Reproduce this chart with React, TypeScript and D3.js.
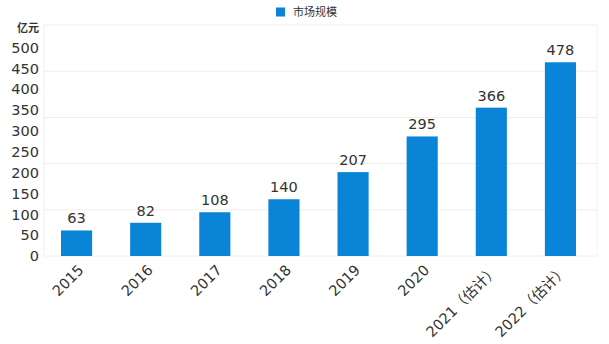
import React from "react";
import * as d3 from "d3";

const categories = ["2015", "2016", "2017", "2018", "2019", "2020", "2021（估计）", "2022（估计）"];
const values = [63, 82, 108, 140, 207, 295, 366, 478];
const yTickLabels = [0, 50, 100, 150, 200, 250, 300, 350, 400, 450, 500];
const seriesName = "市场规模";
const unitLabel = "亿元";

const W = 609;
const H = 344;
const FONT = "'DejaVu Sans', 'Noto Sans CJK SC', sans-serif";
const BAR = "#0a84d7";
const TEXT = "#333";

export default function App() {
  const left = 44, right = 597, top = 25, bottom = 256;
  const x = d3.scaleBand<string>().domain(categories).range([42, 595]).paddingInner(0.55).paddingOuter(0.275);
  const y = d3.scaleLinear().domain([0, 570]).range([bottom, top]);
  const gridTicks = d3.range(0, 6).map((i) => (570 / 5) * i);
  const yLab = d3.scaleLinear().domain([0, 500]).range([256, 47.5]);

  return (
    <svg width={W} height={H} style={{ position: "absolute", left: 0, top: 0, background: "#fff" }} fontFamily={FONT}>
      {/* legend */}
      <rect x={276} y={7.5} width={9} height={9} fill={BAR} />
      <text x={293} y={16} fontSize={11} fill={TEXT}>{seriesName}</text>
      {/* grid */}
      {gridTicks.map((t, i) => (
        <line key={i} x1={left} x2={right} y1={y(t)} y2={y(t)} stroke="#eeeeee" strokeWidth={1} />
      ))}
      <line x1={left} x2={left} y1={top} y2={bottom} stroke="#eeeeee" />
      <line x1={right} x2={right} y1={top} y2={bottom} stroke="#f2f2f2" />
      {/* unit */}
      <text x={39} y={32} fontSize={11} fontWeight="bold" fill={TEXT} textAnchor="end">{unitLabel}</text>
      {/* y labels */}
      {yTickLabels.map((t) => (
        <text key={t} x={39} y={yLab(t)} dy="0.36em" fontSize={14.5} fill={TEXT} textAnchor="end">{t}</text>
      ))}
      {/* bars */}
      {values.map((v, i) => {
        const bx = x(categories[i])!;
        return (
          <g key={i}>
            <rect x={bx} y={y(v)} width={x.bandwidth()} height={bottom - y(v)} fill={BAR} />
            <text x={bx + x.bandwidth() / 2} y={y(v) - 7} fontSize={14.5} fill={TEXT} textAnchor="middle">{v}</text>
          </g>
        );
      })}
      {/* x labels */}
      {categories.map((c) => {
        const cx = x(c)! + x.bandwidth() / 2;
        return (
          <text key={c} transform={`translate(${cx + 8},${271}) rotate(-45)`} fontSize={14.5} fill={TEXT} textAnchor="end">{c}</text>
        );
      })}
    </svg>
  );
}
